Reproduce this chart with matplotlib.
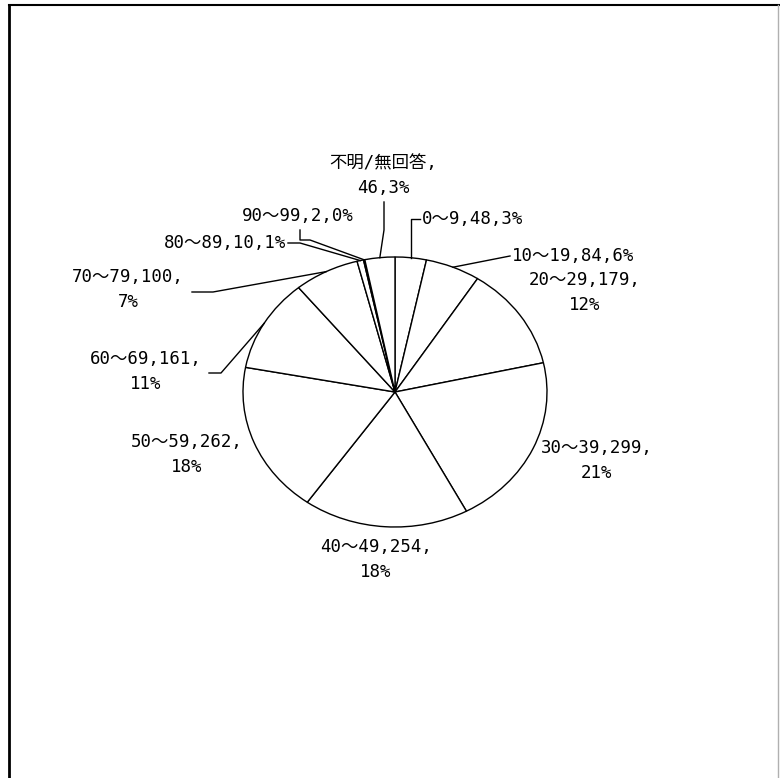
import numpy as np
import matplotlib
matplotlib.use("Agg")
import matplotlib.pyplot as plt
from matplotlib.lines import Line2D

# Age groups, counts (clockwise from 12 o'clock)
categories = ['0～9', '10～19', '20～29', '30～39', '40～49', '50～59',
              '60～69', '70～79', '80～89', '90～99', '不明/無回答']
counts = [48, 84, 179, 299, 254, 262, 161, 100, 10, 2, 46]

# how each label is wrapped: 0 = one line, 1 = break after name, 2 = break after count
wrap = [0, 0, 2, 2, 2, 2, 2, 2, 0, 0, 1]

W, H = 780, 778
CX, CY, RX, RY = 395, 392, 152, 135   # pie ellipse in pixels
FONT = ['DejaVu Sans Mono', 'Noto Sans CJK JP']
FS = 12.5

total = sum(counts)
pcts = [int(round(c / total * 100)) for c in counts]


def label_lines(i):
    name, n, p = categories[i], counts[i], pcts[i]
    if wrap[i] == 0:
        return [f'{name},{n},{p}%']
    if wrap[i] == 1:
        return [f'{name},', f'{n},{p}%']
    return [f'{name},{n},', f'{p}%']


def edge_point(i):
    # middle of wedge i on the ellipse, in pixel coords
    cum = np.cumsum([0] + counts)
    frac = (cum[i] + cum[i + 1]) / 2 / total
    th = 2 * np.pi * frac
    return CX + RX * np.sin(th), CY - RY * np.cos(th)


fig = plt.figure(figsize=(W / 100, H / 100), dpi=100)
fig.patch.set_facecolor('white')

# stretched axes turn the round pie into an ellipse
ax = fig.add_axes([(CX - RX) / W, (H - CY - RY) / H, 2 * RX / W, 2 * RY / H])
ax.pie(counts, startangle=90, counterclock=False, radius=1,
       colors=['white'] * len(counts),
       wedgeprops=dict(edgecolor='black', linewidth=1.0))
ax.set_aspect('auto')
ax.set_xlim(-1, 1)
ax.set_ylim(-1, 1)
ax.axis('off')

# overlay in pixel coordinates for labels and leader lines
ov = fig.add_axes([0, 0, 1, 1])
ov.set_xlim(0, W)
ov.set_ylim(H, 0)
ov.axis('off')

# (x, y of first line, ha) for each label
label_pos = [
    (422, 219, 'left'),
    (512, 256, 'left'),
    (585, 280, 'center'),
    (597, 448, 'center'),
    (376, 547, 'center'),
    (187, 442, 'center'),
    (146, 359, 'center'),
    (128, 277, 'center'),
    (286, 243, 'right'),
    (298, 216, 'center'),
    (383, 163, 'center'),
]
LINE_GAP = 25

for i, (x, y, ha) in enumerate(label_pos):
    for k, s in enumerate(label_lines(i)):
        ov.text(x, y + k * LINE_GAP, s, ha=ha, va='center',
                fontsize=FS, family=FONT, color='black')

# leader lines: fixed bend points, ending on the wedge middle
leaders = {
    0: [(420, 219), (411, 219)],
    1: [(510, 256)],
    6: [(209, 373), (221, 373)],
    7: [(192, 292), (213, 292)],
    8: [(288, 243), (300, 243)],
    9: [(300, 230), (300, 240), (310, 240)],
    10: [(384, 202), (384, 230)],
}
for i, pts in leaders.items():
    ex, ey = edge_point(i)
    if i == 0:
        pts = pts + [(pts[-1][0], ey)]
    else:
        pts = pts + [(ex, ey)]
    xs, ys = zip(*pts)
    ov.add_line(Line2D(xs, ys, color='black', lw=1.0))

# chart area frame
ov.add_line(Line2D([9, 9], [5, H], color='black', lw=2.0))
ov.add_line(Line2D([9, 779], [5, 5], color='black', lw=1.5))
ov.add_line(Line2D([778, 778], [5, H], color='#b0b0b0', lw=1.0))

fig.savefig('out.png', dpi=100, facecolor='white')
